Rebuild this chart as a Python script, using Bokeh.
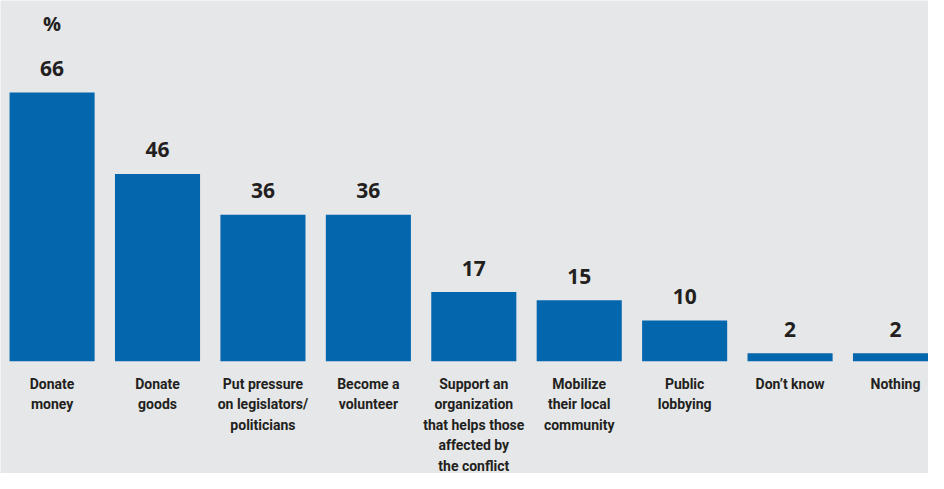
from bokeh.plotting import figure
from bokeh.models import ColumnDataSource, LabelSet, Label, Range1d
from bokeh.core.properties import value
from bokeh.embed import file_html
from bokeh.resources import INLINE

categories = ["Donate\nmoney", "Donate\ngoods", "Put pressure\non legislators/\npoliticians",
              "Become a\nvolunteer", "Support an\norganization\nthat helps those\naffected by\nthe conflict",
              "Mobilize\ntheir local\ncommunity", "Public\nlobbying", "Don\u2019t know", "Nothing"]
values = [66, 46, 36, 36, 17, 15, 10, 2, 2]
value_labels = [str(v) for v in values]
unit_label = "%"

BG = "#e6e7e8"
BAR = "#0466ad"
TXT = "#231f20"

PX_PER_UNIT = 4.074          # vertical pixels per percentage point
LINE_FIRST = 22.2            # px below bar base to centre of first label line
LINE_STEP = 20.5             # px between label lines

xs = list(range(len(categories)))
src = ColumnDataSource(dict(x=xs, top=values, lab=value_labels))

# one row per label line so each line can be centred under its bar
lx, ly, lt = [], [], []
for i, cat in enumerate(categories):
    for k, line in enumerate(cat.split("\n")):
        lx.append(i)
        ly.append(-(LINE_FIRST + LINE_STEP * k) / PX_PER_UNIT)
        lt.append(line)
cat_src = ColumnDataSource(dict(x=lx, y=ly, t=lt))

p = figure(width=928, height=473, output_backend="svg", toolbar_location=None,
           x_range=Range1d(-0.4894, 8.313), y_range=Range1d(-27.54, 88.56),
           background_fill_color=BG, border_fill_color=BG, min_border=0)
p.axis.visible = False
p.grid.visible = False
p.outline_line_color = None

p.vbar(x="x", top="top", bottom=0, width=0.807, source=src, fill_color=BAR, line_color=None)

p.add_layout(LabelSet(x="x", y="top", text="lab", source=src, y_offset=24,
                      text_align="center", text_baseline="middle",
                      text_font=value("Open Sans"), text_font_style="bold",
                      text_font_size=value("21px"), text_color=TXT))

p.add_layout(LabelSet(x="x", y="y", text="t", source=cat_src,
                      text_align="center", text_baseline="middle",
                      text_font=value("Roboto"), text_font_style="bold",
                      text_font_size=value("14px"), text_color=TXT))

p.add_layout(Label(x=0, y=82.9, text=unit_label, text_align="center", text_baseline="middle",
                   text_font="Open Sans", text_font_style="bold", text_font_size="20px",
                   text_color=TXT))

open("out.html", "w").write(file_html(p, INLINE))
